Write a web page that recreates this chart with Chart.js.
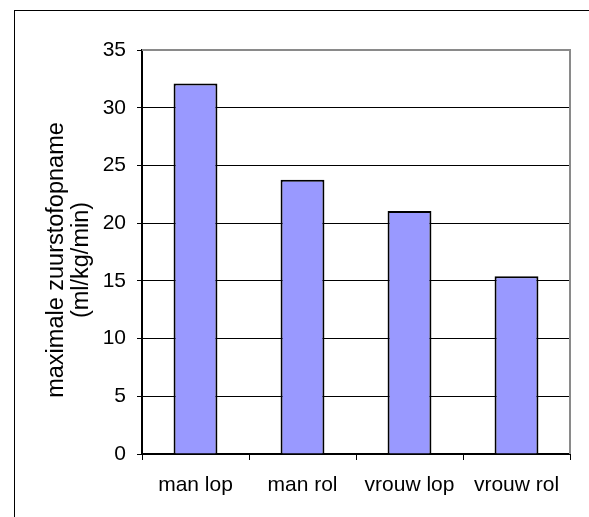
<!DOCTYPE html>
<html>
<head>
<meta charset="utf-8">
<script src="https://cdn.jsdelivr.net/npm/chart.js@4/dist/chart.umd.min.js"></script>
<style>
  html, body { margin: 0; padding: 0; background: #fff; }
  #wrap { width: 589px; height: 517px; position: relative; }
</style>
</head>
<body>
<div id="wrap"><canvas id="c" width="589" height="517"></canvas></div>
<script>
// Maximal oxygen uptake per group
const categories = ['man lop', 'man rol', 'vrouw lop', 'vrouw rol'];
const uptake = [32.1, 23.75, 21.05, 15.4];
const yAxisTitle = ['maximale zuurstofopname', '(ml/kg/min)'];
const yMin = 0, yMax = 35, yStep = 5;

const FONT = 'Liberation Sans, Arial, sans-serif';

// Outer frame, grey top/right edge of the plot area, and the rotated axis title
const framePlugin = {
  id: 'frame',
  beforeDraw(chart) {
    const ctx = chart.ctx;
    ctx.save();
    ctx.fillStyle = '#fff';
    ctx.fillRect(0, 0, chart.width, chart.height);
    ctx.strokeStyle = '#000';
    ctx.lineWidth = 1;
    ctx.strokeRect(14.5, 10.5, 700, 700);
    ctx.restore();
  },
  afterDatasetsDraw(chart) {
    const { ctx, chartArea: a } = chart;
    ctx.save();
    ctx.strokeStyle = '#8a8a8a';
    ctx.lineWidth = 2;
    ctx.beginPath();
    ctx.moveTo(a.left, a.top);
    ctx.lineTo(a.right, a.top);
    ctx.lineTo(a.right, a.bottom);
    ctx.stroke();
    ctx.restore();
  },
  afterDraw(chart) {
    const ctx = chart.ctx;
    const a = chart.chartArea;
    const cy = (a.top + a.bottom) / 2 + 8;
    ctx.save();
    ctx.fillStyle = '#000';
    ctx.font = '23.5px ' + FONT;
    ctx.textAlign = 'center';
    ctx.textBaseline = 'middle';
    yAxisTitle.forEach((line, i) => {
      ctx.save();
      ctx.translate(57 + i * 25, cy);
      ctx.rotate(-Math.PI / 2);
      ctx.fillText(line, 0, 0);
      ctx.restore();
    });
    ctx.restore();
  }
};

new Chart(document.getElementById('c'), {
  type: 'bar',
  data: {
    labels: categories,
    datasets: [{
      data: uptake,
      backgroundColor: '#9999ff',
      borderColor: '#000',
      borderWidth: 2,
      barPercentage: 0.41,
      categoryPercentage: 1
    }]
  },
  options: {
    responsive: false,
    animation: false,
    devicePixelRatio: 1,
    layout: { padding: { top: 50, right: 19, left: 0, bottom: 0 } },
    plugins: {
      legend: { display: false },
      tooltip: { enabled: false }
    },
    scales: {
      x: {
        offset: true,
        grid: {
          offset: true,
          drawOnChartArea: false,
          drawTicks: true,
          tickLength: 6,
          color: '#000',
          lineWidth: 1
        },
        border: { color: '#000', width: 2 },
        ticks: {
          color: '#000',
          padding: 13,
          maxRotation: 0,
          font: { family: FONT, size: 21 }
        },
        afterFit(s) { s.height = 63; }
      },
      y: {
        min: yMin,
        max: yMax,
        grid: {
          color: '#000',
          lineWidth: 1,
          drawTicks: true,
          tickLength: 5
        },
        border: { color: '#000', width: 2 },
        ticks: {
          stepSize: yStep,
          color: '#000',
          padding: 11,
          font: { family: FONT, size: 21 }
        },
        afterFit(s) { s.width = 142; }
      }
    }
  },
  plugins: [framePlugin]
});
</script>
</body>
</html>
